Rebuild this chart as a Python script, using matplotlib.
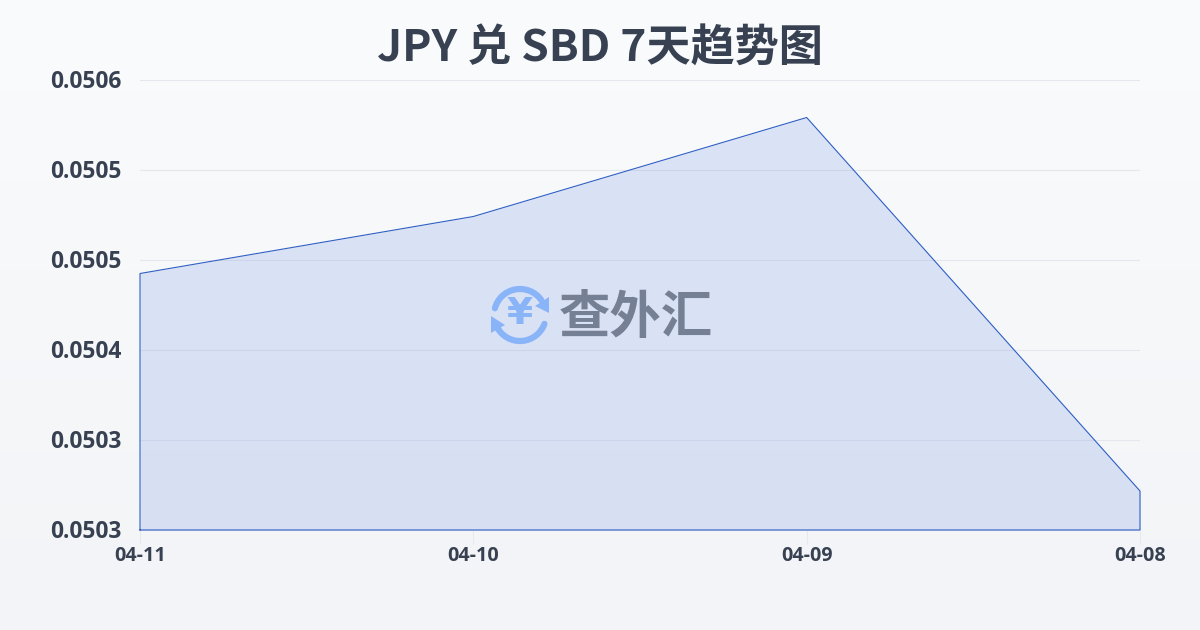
import numpy as np
import matplotlib
matplotlib.use("Agg")
import matplotlib.pyplot as plt
from matplotlib.patches import Arc, Polygon
from matplotlib.transforms import ScaledTranslation

plt.rcParams['font.family'] = ['Noto Sans CJK SC', 'DejaVu Sans']

title = "JPY 兑 SBD 7天趋势图"
dates = ["04-11", "04-10", "04-09", "04-08"]
rates = [0.050451, 0.050489, 0.050555, 0.050306]
y_ticks = [0.05028, 0.05034, 0.05040, 0.05046, 0.05052, 0.05058]
y_labels = ["0.0503", "0.0503", "0.0504", "0.0505", "0.0505", "0.0506"]

W, H = 1200, 630
fig = plt.figure(figsize=(W / 100, H / 100), dpi=100)

bg = fig.add_axes([0, 0, 1, 1], zorder=0)
bg.set_axis_off()
grad = np.linspace(0, 1, 256)[:, None]
c0, c1 = np.array([0xf9, 0xfb, 0xfc]) / 255, np.array([0xf2, 0xf4, 0xf7]) / 255
bg.imshow(c0 + (c1 - c0) * grad[..., None], aspect='auto', extent=[0, 1, 0, 1])

ax = fig.add_axes([140 / W, 1 - 530 / H, 1000 / W, 450 / H], zorder=1)
ax.patch.set_alpha(0)
x = np.arange(len(dates))
ax.set_xlim(0, len(dates) - 1)
ax.set_ylim(y_ticks[0], y_ticks[-1])
ax.grid(axis='y', color='#e4e7ee', lw=0.8, zorder=1)
ax.set_axisbelow(True)
for s in ax.spines.values():
    s.set_visible(False)

ax.fill_between(x, rates, y_ticks[0], color='#2f62d8', alpha=0.14, lw=0, zorder=2)
ax.plot(np.r_[x[0], x, x[-1], x[0]], np.r_[y_ticks[0], rates, y_ticks[0], y_ticks[0]],
        color='#2f5fc4', lw=0.8, zorder=3, solid_joinstyle='miter', clip_on=False)

ax.set_xticks(x, dates)
ax.set_yticks(y_ticks, y_labels)
ax.tick_params(axis='x', length=10, width=0.8, color='#e6e9ef', pad=1.5,
               labelsize=14.2, labelcolor='#374151')
ax.tick_params(axis='y', length=0, pad=13, labelsize=16.4, labelcolor='#374151')
for t in ax.get_xticklabels() + ax.get_yticklabels():
    t.set_fontfamily(['Open Sans', 'DejaVu Sans'])
    t.set_fontweight('bold')
for t in ax.get_yticklabels():
    t.set_transform(t.get_transform() + ScaledTranslation(0, 1.5 / 100, fig.dpi_scale_trans))

fig.text(600 / W, 1 - 48 / H, title, ha='center', va='center', fontsize=31.8,
         fontweight='bold', color='#374151', zorder=5)

# watermark, drawn in pixel coordinates of the figure
wm = fig.add_axes([0, 0, 1, 1], zorder=4)
wm.set_xlim(0, W)
wm.set_ylim(H, 0)
wm.set_axis_off()
wm.patch.set_alpha(0)
blue = '#8ab4f8'
cx, cy, r = 520, 315, 26
wm.add_patch(Arc((cx, cy), 2 * r, 2 * r, theta1=195, theta2=325, color=blue, lw=4.5, capstyle='round'))
wm.add_patch(Arc((cx, cy), 2 * r, 2 * r, theta1=20, theta2=150, color=blue, lw=4.5, capstyle='round'))
wm.add_patch(Polygon([[549, 297], [549, 313], [535, 306]], closed=True, color=blue, lw=0))
wm.add_patch(Polygon([[491, 316], [491, 333], [505, 325]], closed=True, color=blue, lw=0))
wm.text(cx, cy - 1, "¥", ha='center', va='center', fontsize=27, fontweight='bold',
        color=blue, family=['DejaVu Sans'])
wm.text(636, 318, "查外汇", ha='center', va='center', fontsize=37, fontweight='bold', color='#758094')

fig.savefig("out.png", dpi=100)
